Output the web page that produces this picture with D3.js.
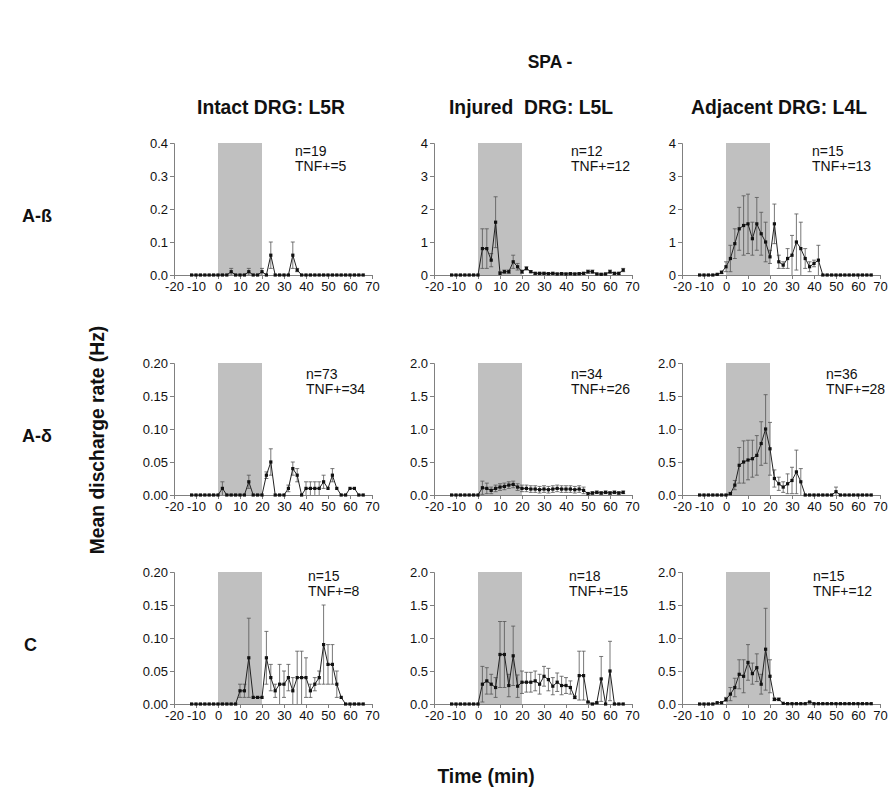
<!DOCTYPE html>
<html>
<head>
    <meta charset="utf-8">
    <title>SPA - discharge rate</title>
    <script type="text/javascript" src="https://cdn.jsdelivr.net/npm/d3@7/dist/d3.min.js"></script>
    <style>
        body { margin: 0; background: #fff; }
        .tick text { font-family: "Liberation Sans", Arial, sans-serif; font-size: 13px; fill: #111; }
        .axis path, .axis line { stroke: #808080; stroke-width: 1px; }
        .head { font-family: "Liberation Sans", Arial, sans-serif; font-weight: bold; fill: #111; }
        .note { font-family: "Liberation Sans", Arial, sans-serif; font-size: 14px; fill: #111; }
    </style>
</head>
<body>
<div id="chart"></div>
<script type="text/javascript">
    // minutes from drug application, one bin every 2 min
    var times = [-12,-10,-8,-6,-4,-2,0,2,4,6,8,10,12,14,16,18,20,22,24,26,28,30,32,34,36,38,40,42,44,46,48,50,52,54,56,58,60,62,64,66];
    var xTicks = [-20,-10,0,10,20,30,40,50,60,70];

    var colTitles = ["Intact DRG: L5R", "Injured  DRG: L5L", "Adjacent DRG: L4L"];
    var rowTitles = ["A-ß", "A-δ", "C"];

    // A-beta
    var abIntactMean = [0,0,0,0,0,0,0,0,0,0.01,0,0,0,0.01,0,0,0.01,0,0.06,0,0,0,0,0.06,0.015,0,0,0,0,0,0,0,0,0,0,0,0,0,0,0];
    var abIntactSem  = [0,0,0,0,0,0,0,0,0,0.01,0,0,0,0.01,0,0,0.01,0,0.04,0,0,0,0,0.04,0.005,0,0,0,0,0,0,0,0,0,0,0,0,0,0,0];
    var abInjuredMean = [0,0,0,0,0,0,0,0.8,0.8,0.45,1.6,0.05,0.1,0.1,0.4,0.25,0.1,0.2,0.1,0.05,0.05,0.05,0.04,0.05,0.03,0.04,0.03,0.04,0.03,0.04,0.05,0.1,0.1,0.03,0.02,0.03,0.1,0.05,0.05,0.15];
    var abInjuredSem  = [0,0,0,0,0,0,0,0.6,0.6,0.2,0.77,0.05,0.05,0.05,0.2,0.1,0.05,0.05,0.03,0.03,0.03,0.03,0.03,0.03,0.03,0.03,0.03,0.03,0.03,0.03,0.03,0.05,0.05,0.03,0.03,0.03,0.05,0.03,0.03,0.05];
    var abAdjacentMean = [0,0,0,0,0.02,0.08,0.25,0.5,0.95,1.4,1.5,1.55,1.1,1.55,1.25,1.0,0.55,1.55,0.4,0.3,0.5,0.6,1.0,0.8,0.5,0.25,0.35,0.45,0,0,0,0,0,0,0,0,0,0,0,0];
    var abAdjacentSem  = [0,0,0,0,0.01,0.04,0.15,0.4,0.45,0.65,0.9,0.9,0.5,0.8,0.65,0.6,0.2,0.6,0.2,0.1,0.3,0.6,0.85,0.8,0.3,0.15,0.1,0.45,0,0,0,0,0,0,0,0,0,0,0,0];

    // A-delta
    var adIntactMean = [0,0,0,0,0,0,0,0.01,0,0,0,0,0,0.02,0,0,0,0.03,0.05,0,0,0,0.01,0.04,0.03,0,0.01,0.01,0.01,0.01,0.02,0.01,0.03,0.01,0,0,0.01,0.01,0,0];
    var adIntactSem  = [0,0,0,0,0,0,0,0.01,0,0,0,0,0,0.01,0,0,0,0.005,0.02,0,0,0,0.005,0.01,0.01,0,0.01,0.01,0.01,0.01,0.01,0,0.01,0,0,0,0,0,0,0];
    var adInjuredMean = [0,0,0,0,0,0,0,0.11,0.1,0.07,0.1,0.12,0.13,0.15,0.16,0.12,0.1,0.1,0.09,0.09,0.08,0.09,0.08,0.09,0.1,0.09,0.09,0.09,0.08,0.09,0.07,0.02,0.03,0.04,0.03,0.04,0.03,0.04,0.03,0.04];
    var adInjuredSem  = [0,0,0,0,0,0,0,0.1,0.08,0.05,0.05,0.05,0.05,0.05,0.05,0.05,0.05,0.05,0.05,0.05,0.05,0.05,0.05,0.05,0.05,0.05,0.05,0.05,0.05,0.05,0.05,0.02,0.02,0.02,0.02,0.02,0.02,0.02,0.02,0.02];
    var adAdjacentMean = [0,0,0,0,0,0,0,0.02,0.15,0.45,0.5,0.53,0.55,0.6,0.78,1.0,0.7,0.25,0.17,0.12,0.17,0.22,0.35,0.2,0,0,0,0,0,0,0,0.05,0,0,0,0,0,0,0,0];
    var adAdjacentSem  = [0,0,0,0,0,0,0,0.02,0.07,0.27,0.32,0.3,0.28,0.3,0.33,0.52,0.4,0.13,0.1,0.08,0.15,0.2,0.33,0.2,0,0,0,0,0,0,0,0.07,0,0,0,0,0,0,0,0];

    // C fibres
    var cIntactMean = [0,0,0,0,0,0,0,0,0,0,0,0.02,0.02,0.07,0.01,0.01,0.01,0.07,0.04,0.02,0.03,0.03,0.04,0.02,0.04,0.04,0.04,0.02,0.03,0.04,0.09,0.06,0.06,0.03,0.01,0,0,0,0,0];
    var cIntactSem  = [0,0,0,0,0,0,0,0,0,0,0,0.01,0.01,0.06,0,0,0,0.04,0.02,0.01,0.03,0.02,0.02,0.02,0.04,0.04,0.03,0.01,0.01,0.01,0.06,0.03,0.03,0.02,0,0,0,0,0,0];
    var cInjuredMean = [0,0,0,0,0,0,0,0.3,0.35,0.3,0.25,0.75,0.75,0.28,0.73,0.27,0.33,0.33,0.33,0.35,0.3,0.42,0.37,0.27,0.33,0.28,0.28,0.25,0.1,0.43,0.43,0.03,0,0.02,0.38,0,0.5,0,0,0];
    var cInjuredSem  = [0,0,0,0,0,0,0,0.27,0.2,0.15,0.15,0.5,0.5,0.17,0.45,0.17,0.17,0.15,0.15,0.15,0.15,0.15,0.17,0.13,0.14,0.14,0.12,0.1,0.02,0.37,0.37,0.01,0,0.01,0.34,0,0.45,0,0,0];
    var cAdjacentMean = [0,0,0,0,0.02,0.02,0.07,0.15,0.25,0.45,0.42,0.63,0.46,0.55,0.3,0.83,0.42,0.07,0.07,0.01,0.005,0.005,0.005,0.005,0.005,0.03,0.005,0.005,0.005,0.005,0.005,0.005,0.005,0.005,0.005,0.005,0.005,0.005,0.005,0.005];
    var cAdjacentSem  = [0,0,0,0,0,0,0.03,0.1,0.14,0.22,0.25,0.27,0.16,0.21,0.15,0.62,0.25,0.02,0.02,0,0,0,0,0,0,0.01,0,0,0,0,0,0,0,0,0,0,0,0,0,0];

    var nLabels   = ["n=19","n=12","n=15","n=73","n=34","n=36","n=15","n=18","n=15"];
    var tnfLabels = ["TNF+=5","TNF+=12","TNF+=13","TNF+=34","TNF+=26","TNF+=28","TNF+=8","TNF+=15","TNF+=12"];
    var yMax      = [0.4, 4, 4, 0.2, 2, 2, 0.2, 2, 2];
    var yTicks    = [[0,0.1,0.2,0.3,0.4],[0,1,2,3,4],[0,1,2,3,4],
                     [0,0.05,0.1,0.15,0.2],[0,0.5,1,1.5,2],[0,0.5,1,1.5,2],
                     [0,0.05,0.1,0.15,0.2],[0,0.5,1,1.5,2],[0,0.5,1,1.5,2]];
    var yFormat   = [".1f","d","d",".2f",".1f",".1f",".2f",".1f",".1f"];

    var means = [abIntactMean, abInjuredMean, abAdjacentMean, adIntactMean, adInjuredMean, adAdjacentMean, cIntactMean, cInjuredMean, cAdjacentMean];
    var sems  = [abIntactSem, abInjuredSem, abAdjacentSem, adIntactSem, adInjuredSem, adAdjacentSem, cIntactSem, cInjuredSem, cAdjacentSem];

    // layout
    var width = 889, height = 794;
    var colX = [174, 434, 682], rowY = [143, 363, 572];
    var pw = 198, ph = 132;
    var noteDx = [121, 137, 130, 132, 137, 144, 134, 135, 131];
    var noteDy = [13, 13, 13, 16, 16, 16, 9, 9, 9];
    var narrow = 0.92;   // the headings use a condensed bold face

    var svg = d3.select("#chart").append("svg")
        .attr("width", width)
        .attr("height", height);

    var x = d3.scaleLinear().domain([-20, 70]).range([0, pw]);

    svg.append("text").attr("class","head")
        .attr("transform","translate(550,68) scale(" + narrow + ",1)")
        .attr("text-anchor","middle").style("font-size","19px")
        .text("SPA -");

    svg.selectAll(".colTitle")
        .data(colTitles)
        .enter()
        .append("text")
        .attr("class","head colTitle")
        .attr("transform", function(d,i){ return "translate(" + (colX[i] + 97) + ",114) scale(" + narrow + ",1)"; })
        .attr("text-anchor","middle")
        .style("font-size","21px")
        .style("white-space","pre")
        .text(function(d){ return d; });

    svg.selectAll(".rowTitle")
        .data(rowTitles)
        .enter()
        .append("text")
        .attr("class","head rowTitle")
        .attr("x", function(d,i){ return i == 2 ? 24 : 22; })
        .attr("y", function(d,i){ return rowY[i] + ph/2 + 13; })
        .style("font-size","18px")
        .text(function(d){ return d; });

    svg.append("text").attr("class","head")
        .attr("transform","translate(104,440) rotate(-90) scale(" + narrow + ",1)")
        .attr("text-anchor","middle").style("font-size","21px")
        .text("Mean discharge rate (Hz)");

    svg.append("text").attr("class","head")
        .attr("transform","translate(486,783) scale(" + narrow + ",1)")
        .attr("text-anchor","middle").style("font-size","21px")
        .text("Time (min)");

    for (var p = 0; p < 9; p++) {
        var r = Math.floor(p / 3), c = p % 3;
        var g = svg.append("g")
            .attr("transform", "translate(" + colX[c] + "," + rowY[r] + ")");

        var y = d3.scaleLinear().domain([0, yMax[p]]).range([ph, 0]);

        var pts = times.map(function(t, i){ return {t: t, m: means[p][i], s: sems[p][i]}; });

        // drug application window 0-20 min
        g.append("rect")
            .attr("x", x(0)).attr("y", y(yMax[p]))
            .attr("width", x(20) - x(0)).attr("height", y(0) - y(yMax[p]))
            .attr("fill", "#c0c0c0");

        g.append("g").attr("class","axis")
            .call(d3.axisLeft(y).tickValues(yTicks[p]).tickFormat(d3.format(yFormat[p])).tickSize(4).tickPadding(2));

        g.append("g").attr("class","axis")
            .attr("transform","translate(0," + ph + ")")
            .call(d3.axisBottom(x).tickValues(xTicks).tickFormat(function(d){ return String(d); }).tickSize(4).tickPadding(3));

        // error bars
        var eb = g.selectAll(".eb").data(pts.filter(function(d){ return d.s > 0; })).enter().append("g");
        eb.append("line")
            .attr("x1", function(d){ return x(d.t); }).attr("x2", function(d){ return x(d.t); })
            .attr("y1", function(d){ return y(d.m + d.s); })
            .attr("y2", function(d){ return y(Math.max(0, d.m - d.s)); })
            .attr("stroke", "#555").attr("stroke-width", 0.8);
        eb.append("line")
            .attr("x1", function(d){ return x(d.t) - 2; }).attr("x2", function(d){ return x(d.t) + 2; })
            .attr("y1", function(d){ return y(d.m + d.s); }).attr("y2", function(d){ return y(d.m + d.s); })
            .attr("stroke", "#555").attr("stroke-width", 0.8);
        eb.filter(function(d){ return d.m - d.s > 0; }).append("line")
            .attr("x1", function(d){ return x(d.t) - 2; }).attr("x2", function(d){ return x(d.t) + 2; })
            .attr("y1", function(d){ return y(d.m - d.s); }).attr("y2", function(d){ return y(d.m - d.s); })
            .attr("stroke", "#555").attr("stroke-width", 0.8);

        g.append("path")
            .datum(pts)
            .attr("fill", "none")
            .attr("stroke", "#222")
            .attr("stroke-width", 1)
            .attr("d", d3.line().x(function(d){ return x(d.t); }).y(function(d){ return y(d.m); }));

        g.selectAll(".pt")
            .data(pts)
            .enter()
            .append("rect")
            .attr("x", function(d){ return x(d.t) - 1.6; })
            .attr("y", function(d){ return y(d.m) - 1.6; })
            .attr("width", 3.2).attr("height", 3.2)
            .attr("fill", "#111");

        g.append("text").attr("class","note")
            .attr("x", noteDx[p]).attr("y", noteDy[p])
            .text(nLabels[p]);
        g.append("text").attr("class","note")
            .attr("x", noteDx[p]).attr("y", noteDy[p] + 15)
            .text(tnfLabels[p]);
    }
</script>
</body>
</html>
